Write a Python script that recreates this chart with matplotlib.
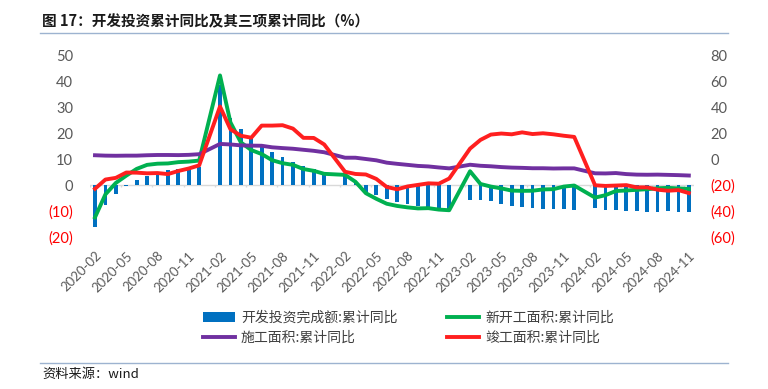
import numpy as np
import pandas as pd
import matplotlib
matplotlib.use("Agg")
import matplotlib.pyplot as plt

plt.rcParams['font.family'] = ['Noto Sans CJK SC', 'DejaVu Sans']

# 月份（含1月，1月无数据）
months = pd.period_range("2020-02", "2024-11", freq="M").strftime("%Y-%m").tolist()

# 各年2-12月数据（%）
invest = [-16.3, -7.7, -3.3, -0.3, 1.9, 3.4, 4.6, 5.6, 6.3, 6.8, 7.0,
          38.3, 25.6, 21.6, 18.3, 15.0, 12.7, 10.9, 8.8, 7.2, 6.0, 4.4,
          3.7, 0.7, -2.7, -4.0, -5.4, -6.4, -7.4, -8.0, -8.8, -9.8, -10.0,
          -5.7, -5.8, -6.2, -7.2, -7.9, -8.5, -8.8, -9.1, -9.3, -9.4, -9.6,
          -9.0, -9.5, -9.8, -10.1, -10.1, -10.2, -10.2, -10.1, -10.3, -10.4]
new_start = [-44.9, -27.2, -18.4, -12.8, -7.6, -4.5, -3.6, -3.4, -2.4, -2.0, -1.2,
             64.3, 28.2, 12.8, 6.9, 3.8, -0.9, -3.2, -4.5, -7.7, -9.1, -11.4,
             -12.2, -17.5, -26.3, -30.6, -34.4, -36.1, -37.2, -38.0, -37.8, -38.9, -39.4,
             -9.4, -19.2, -21.2, -22.6, -24.3, -24.5, -24.4, -23.4, -23.2, -21.2, -20.4,
             -29.7, -27.8, -24.6, -24.2, -23.7, -23.2, -22.5, -22.2, -22.6, -23.0]
under_con = [2.9, 2.6, 2.5, 2.6, 2.6, 2.9, 3.1, 3.1, 3.0, 3.2, 3.7,
             11.6, 11.2, 10.5, 10.3, 10.2, 9.0, 8.4, 7.9, 7.1, 6.3, 5.2,
             1.0, 1.0, 0.0, -1.0, -2.8, -3.7, -4.5, -5.3, -5.7, -6.5, -7.2,
             -4.4, -5.2, -5.6, -6.2, -6.6, -6.8, -7.1, -7.1, -7.3, -7.2, -7.2,
             -11.0, -11.1, -10.8, -11.6, -12.0, -12.1, -12.0, -12.2, -12.4, -12.7]
completed = [-22.9, -15.8, -14.5, -10.4, -10.5, -11.0, -10.8, -11.6, -9.2, -7.3, -4.9,
             40.4, 22.9, 17.9, 16.4, 25.7, 25.7, 26.0, 23.4, 16.3, 16.2, 11.2,
             -9.8, -11.5, -11.9, -15.3, -21.5, -23.3, -21.1, -19.9, -18.7, -19.0, -15.0,
             8.0, 14.7, 18.8, 19.6, 19.0, 20.5, 19.2, 19.8, 19.0, 17.9, 17.0,
             -20.2, -20.7, -20.4, -20.1, -21.8, -21.8, -23.6, -24.4, -23.9, -26.2]

left_ticks = [-20, -10, 0, 10, 20, 30, 40, 50]
right_ticks = [-60, -40, -20, 0, 20, 40, 60, 80]

# 去掉1月后的位置
pos = np.array([i for i, m in enumerate(months) if not m.endswith("-01")])
n = len(months)

fig = plt.figure(figsize=(7.68, 3.89), dpi=100)
ax = fig.add_axes([0.1169, 0.3907, 0.7868, 0.4679])
ax2 = ax.twinx()

ax.bar(pos, invest, width=0.36, color='#0070C0', label='开发投资完成额:累计同比', zorder=2)
ax.axhline(0, color='#D9D9D9', lw=1, zorder=1)
ax.vlines(np.arange(-0.5, n, 3), -0.9, 0, color='#D9D9D9', lw=1, zorder=1)

ax2.plot(pos, new_start, color='#00B050', lw=2.8, label='新开工面积:累计同比', solid_joinstyle='round')
ax2.plot(pos, under_con, color='#7030A0', lw=2.8, label='施工面积:累计同比', solid_joinstyle='round')
ax2.plot(pos, completed, color='#FF1F1F', lw=2.8, label='竣工面积:累计同比', solid_joinstyle='round')

ax.set_xlim(-0.5, n - 0.5)
ax.set_ylim(-20, 50)
ax2.set_ylim(-60, 80)

def fmt(v):
    return f"({abs(v)})" if v < 0 else f"{v}"

ax.set_yticks(left_ticks)
ax.set_yticklabels([fmt(v) for v in left_ticks], family=['Lato', 'DejaVu Sans'], fontsize=10.5)
ax2.set_yticks(right_ticks)
ax2.set_yticklabels([fmt(v) for v in right_ticks], family=['Lato', 'DejaVu Sans'], fontsize=10.5)
for a, ticks in ((ax, left_ticks), (ax2, right_ticks)):
    for lab, v in zip(a.get_yticklabels(), ticks):
        lab.set_color('#FF0000' if v < 0 else '#595959')

ax.set_xticks(np.arange(0, n, 3))
ax.set_xticklabels(months[::3], rotation=45, ha='right', rotation_mode='anchor',
                   family=['Lato', 'DejaVu Sans'], fontsize=9.5, color='#595959')
ax.tick_params(axis='x', length=0, pad=9)
ax.tick_params(axis='y', length=0, pad=12)
ax2.tick_params(axis='y', length=0, pad=12)
for a in (ax, ax2):
    for s in a.spines.values():
        s.set_visible(False)

h1, l1 = ax.get_legend_handles_labels()
h2, l2 = ax2.get_legend_handles_labels()
handles = [h1[0], h2[1], h2[0], h2[2]]
labels = [l1[0], l2[1], l2[0], l2[2]]
fig.legend(handles, labels, ncol=2, loc='center', bbox_to_anchor=(0.532, 0.157),
           frameon=False, fontsize=10, handlelength=2.3, handletextpad=0.4,
           columnspacing=3.6, labelspacing=0.4, labelcolor='#404040')

fig.text(0.055, 0.944, '图 17：开发投资累计同比及其三项累计同比（%）', fontsize=10.5,
         fontweight='bold', color='#1a1a1a', va='center')
fig.add_artist(plt.Line2D([0.052, 0.948], [0.915, 0.915], color='#9DB3D0', lw=1))
fig.add_artist(plt.Line2D([0.052, 0.948], [0.067, 0.067], color='#9DB3D0', lw=1))
fig.text(0.055, 0.038, '资料来源：wind', fontsize=9.5, color='#1a1a1a', va='center')

fig.savefig('out.png', dpi=100)
